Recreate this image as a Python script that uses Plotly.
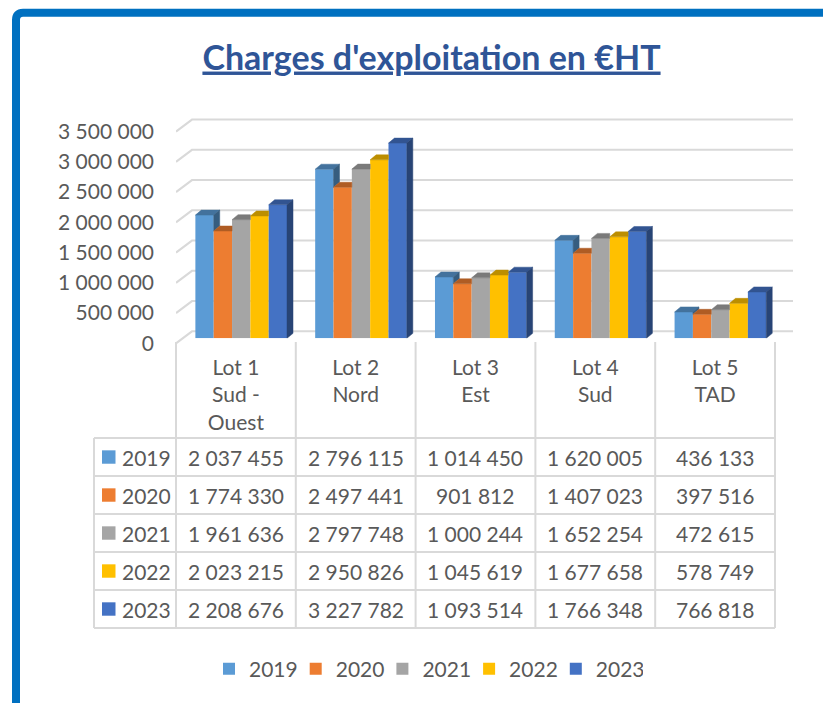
import plotly.graph_objects as go

# ---------------- data ----------------
categories = ["Lot 1<br>Sud -<br>Ouest", "Lot 2<br>Nord", "Lot 3<br>Est", "Lot 4<br>Sud", "Lot 5<br>TAD"]
years = ["2019", "2020", "2021", "2022", "2023"]
values_2019 = [2037455, 2796115, 1014450, 1620005, 436133]
values_2020 = [1774330, 2497441, 901812, 1407023, 397516]
values_2021 = [1961636, 2797748, 1000244, 1652254, 472615]
values_2022 = [2023215, 2950826, 1045619, 1677658, 578749]
values_2023 = [2208676, 3227782, 1093514, 1766348, 766818]
y_tick_values = [0, 500000, 1000000, 1500000, 2000000, 2500000, 3000000, 3500000]

series_values = [values_2019, values_2020, values_2021, values_2022, values_2023]
colors = ["#5B9BD5", "#ED7D31", "#A5A5A5", "#FFC000", "#4472C4"]

TEXT = "#595959"
GRID = "#D9D9D9"
FONT = "Lato"


def shade(hex_color, f):
    h = hex_color.lstrip("#")
    r, g, b = (int(h[i:i + 2], 16) for i in (0, 2, 4))
    return "#%02X%02X%02X" % (int(r * f), int(g * f), int(b * f))


# ---------------- geometry (pixels of the 831x703 page) ----------------
W, H = 831, 703
OFF = 8.0          # page body margin
SY = 711.0 / 703.0  # vertical page scaling observed in the photo


def fx(p):
    return (p - OFF) / W


def fy(p):
    return 1 - (p * SY - OFF) / H


PX = 60.5e-6          # pixels per value unit
CAT_W = 119.8         # pixels per category
COL0 = 176.0          # left edge of first category column
GRID_RIGHT = 793.0

# subplot 1 : front plane labels + back wall grid
front_zero = 343.3
y1_rng = [-60000, 3750000]
y1_dom = [fy(front_zero - y1_rng[0] * PX), fy(front_zero - y1_rng[1] * PX)]
x1_rng = [-0.5, -0.5 + (GRID_RIGHT - COL0) / CAT_W]
x1_dom = [fx(COL0), fx(GRID_RIGHT)]
wall_dx = 16 / CAT_W
wall_dy = 12 / PX

# subplot 2 : bars
bar_zero = 338.3
shift = 5.3
y2_rng = [0, 3700000]
y2_dom = [fy(bar_zero), fy(bar_zero - y2_rng[1] * PX)]
x2_rng = [-0.5, 4.75]
x2_dom = [fx(COL0 + shift), fx(COL0 + shift + (x2_rng[1] - x2_rng[0]) * CAT_W)]
bargap = 0.235
bw = (1 - bargap) / len(years)
ddx = 6 / CAT_W
ddy = 5 / PX

fig = go.Figure()

# back wall gridlines (with slanted left wall part)
gx, gy = [], []
for v in y_tick_values:
    gx += [-0.5, -0.5 + wall_dx, x1_rng[1], None]
    gy += [v, v + wall_dy, v + wall_dy, None]
fig.add_trace(go.Scatter(x=gx, y=gy, mode="lines", line=dict(color=GRID, width=2),
                         hoverinfo="skip", showlegend=False, xaxis="x", yaxis="y"))

# bar fronts
for yr, vals, col in zip(years, series_values, colors):
    fig.add_trace(go.Bar(x=list(range(len(categories))), y=vals, name=yr,
                         marker=dict(color=col, line=dict(width=0)),
                         xaxis="x2", yaxis="y2"))

# 3D top and side faces
for i, (yr, vals, col) in enumerate(zip(years, series_values, colors)):
    tx, ty, sx, sy = [], [], [], []
    for k, v in enumerate(vals):
        x0 = k - (1 - bargap) / 2 + i * bw
        x1 = x0 + bw
        nxt = series_values[i + 1][k] if i < len(years) - 1 else None
        if nxt is None or nxt < v:
            tx += [x0, x1, x1 + ddx, x0 + ddx, x0, None]
            ty += [v, v, v + ddy, v + ddy, v, None]
            base = 0 if nxt is None else nxt
            sx += [x1, x1, x1 + ddx, x1 + ddx, x1, None]
            sy += [base, v, v + ddy, base + ddy, base, None]
        else:
            tx += [x0, x1, x1, x0 + ddx, x0, None]
            ty += [v, v, v + ddy, v + ddy, v, None]
    tc = shade(col, 0.74)
    fig.add_trace(go.Scatter(x=tx, y=ty, mode="lines", fill="toself", fillcolor=tc,
                             line=dict(color=tc, width=0.5), hoverinfo="skip",
                             showlegend=False, xaxis="x2", yaxis="y2"))
    if sx:
        sc = shade(col, 0.6)
        fig.add_trace(go.Scatter(x=sx, y=sy, mode="lines", fill="toself", fillcolor=sc,
                                 line=dict(color=sc, width=0.5), hoverinfo="skip",
                                 showlegend=False, xaxis="x2", yaxis="y2"))

# ---------------- data table ----------------
shapes = []
row_lines = [438, 476, 514, 552, 590, 628]
col_lines = [COL0 + j * CAT_W for j in range(len(categories) + 1)]
for yl in row_lines:
    shapes.append(dict(type="line", xref="paper", yref="paper", x0=fx(94), x1=fx(col_lines[-1]),
                       y0=fy(yl), y1=fy(yl), line=dict(color=GRID, width=2)))
shapes.append(dict(type="line", xref="paper", yref="paper", x0=fx(94), x1=fx(94),
                   y0=fy(row_lines[0]), y1=fy(row_lines[-1]), line=dict(color=GRID, width=2)))
for xl in col_lines:
    shapes.append(dict(type="line", xref="paper", yref="paper", x0=fx(xl), x1=fx(xl),
                       y0=fy(342), y1=fy(row_lines[-1]), line=dict(color=GRID, width=2)))

annotations = []
for r, (yr, vals, col) in enumerate(zip(years, series_values, colors)):
    yc = (row_lines[r] + row_lines[r + 1]) / 2
    shapes.append(dict(type="rect", xref="paper", yref="paper", x0=fx(102), x1=fx(115.5),
                       y0=fy(yc - 6.7), y1=fy(yc + 6.7), fillcolor=col, line=dict(width=0)))
    annotations.append(dict(text=yr, x=fx(119.5), y=fy(yc), xref="paper", yref="paper",
                            xanchor="left", yanchor="middle", showarrow=False,
                            font=dict(family=FONT, size=21, color=TEXT)))
    for k, v in enumerate(vals):
        annotations.append(dict(text=f"{v:,}".replace(",", " "),
                                x=fx(COL0 + (k + 0.5) * CAT_W), y=fy(yc),
                                xref="paper", yref="paper", xanchor="center", yanchor="middle",
                                showarrow=False, font=dict(family=FONT, size=21, color=TEXT)))

# chart frame (blue border, top-left corner)
fl, ft, rr = 16.0, 12.7, 7.0
shapes.append(dict(type="path", xref="paper", yref="paper",
                   path=(f"M {fx(fl)},{fy(760)} L {fx(fl)},{fy(ft + rr)} "
                         f"Q {fx(fl)},{fy(ft)} {fx(fl + rr)},{fy(ft)} L {fx(900)},{fy(ft)}"),
                   line=dict(color="#0070C0", width=8)))

fig.update_layout(
    width=W, height=H,
    margin=dict(l=0, r=0, t=0, b=0),
    paper_bgcolor="white", plot_bgcolor="rgba(0,0,0,0)",
    separators=", ",
    barmode="group", bargap=bargap, bargroupgap=0,
    font=dict(family=FONT, size=21, color=TEXT),
    title=dict(text="<b><u>Charges d'exploitation en €HT</u></b>",
               x=fx(431.5), y=fy(57), xanchor="center", yanchor="middle",
               font=dict(family=FONT, size=34, color="#2F5597")),
    xaxis=dict(domain=x1_dom, range=x1_rng, showgrid=False, zeroline=False, showline=False,
               tickvals=list(range(len(categories))), ticktext=categories, ticks="",
               ticklabelstandoff=6,
               tickfont=dict(family=FONT, size=21, color=TEXT), anchor="y", fixedrange=True),
    yaxis=dict(domain=y1_dom, range=y1_rng, showgrid=False, zeroline=False, showline=False,
               tickvals=y_tick_values, tickformat=",d", ticks="", ticklabelstandoff=21,
               tickfont=dict(family=FONT, size=21, color=TEXT), anchor="x", fixedrange=True),
    xaxis2=dict(domain=x2_dom, range=x2_rng, visible=False, anchor="y2", fixedrange=True),
    yaxis2=dict(domain=y2_dom, range=y2_rng, visible=False, anchor="x2", fixedrange=True),
    legend=dict(orientation="h", x=fx(209), xanchor="left", y=fy(669), yanchor="middle",
                entrywidth=41.7, entrywidthmode="pixels",
                font=dict(family=FONT, size=21, color=TEXT), traceorder="normal",
                bgcolor="rgba(0,0,0,0)"),
    shapes=shapes,
    annotations=annotations,
)

fig.write_html("out.html")
